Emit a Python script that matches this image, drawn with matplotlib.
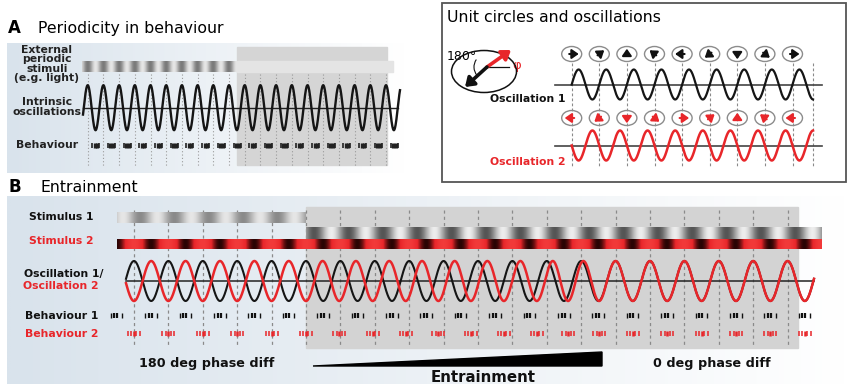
import numpy as np
import matplotlib.pyplot as plt
from matplotlib.colors import LinearSegmentedColormap
from matplotlib.patches import Rectangle, Ellipse, Polygon, Arc, FancyArrowPatch

# ***** VALUES (pixel units) *****
red = '#e8262a'

# panel A
a_labels = ["External\nperiodic\nstimuli\n(e.g. light)", "Intrinsic\noscillations", "Behaviour"]
a_label_y = [64, 107, 145]
a_period = 15.7
a_first_peak = 87.7
a_n_peaks = 20
a_wave_start, a_wave_end = 83, 400

# unit circle panel
circle_angles_1 = [0, 45, 90, 135, 180, 225, 270, 315, 360]
circle_angles_2 = [180, 225, 270, 315, 0, 45, 90, 135, 180]
c_period = 27.6
c_start, c_end = 571.7, 813

# panel B
b_labels = ["Stimulus 1", "Stimulus 2", "Oscillation 1/", "Oscillation 2", "Behaviour 1", "Behaviour 2"]
b_label_x = [29, 29, 24, 23, 25, 25]
b_label_y = [217, 241, 274, 286, 316, 334]
b_label_col = ['#111111', red, '#111111', red, '#111111', red]
b_period = 34.4
b_zero = 125.4
b_n_lines = 20
# phase lag of oscillation 2 behind oscillation 1 (px) along the entrainment zone
lag_x = [306, 340, 375, 410, 444, 478, 512, 547, 581, 606]
lag_px = [17.2, 16.0, 15.0, 13.5, 11.7, 9.7, 8.4, 6.7, 2.4, 0.0]

fig = plt.figure(figsize=(8.48, 3.84), dpi=100)
ax = fig.add_axes([0, 0, 1, 1])


def grad(x0, x1, y0, y1, vals, cmap, z=3):
    ax.imshow(np.asarray(vals)[None, :], extent=(x0, x1, y1, y0), cmap=cmap, vmin=0, vmax=1,
              aspect='auto', interpolation='bilinear', zorder=z)


bg_cmap = LinearSegmentedColormap.from_list('bg', ['#ffffff', '#d9e3ec'])
gray_cmap = LinearSegmentedColormap.from_list('g', ['#e6e6e6', '#7a7a7a'])
gray2_cmap = LinearSegmentedColormap.from_list('g2', ['#ededed', '#555555'])
red_cmap = LinearSegmentedColormap.from_list('r', ['#f23a3a', '#e8262a', '#2a0404'])

# ***** PANEL A *****
grad(7, 405, 43, 173, np.linspace(1, 0, 200), bg_cmap, z=0)
ax.add_patch(Rectangle((237, 47), 150, 118, color='#d5d5d5', zorder=1))
ax.text(8, 33, "A", fontsize=12, fontweight='bold')
ax.text(38, 33, "Periodicity in behaviour", fontsize=11.3)

for s, y in zip(a_labels, a_label_y):
    ax.text(47, y, s, fontsize=7.8, fontweight='bold', ha='center', va='center',
            linespacing=0.95, color='#222222')

peaks_a = a_first_peak + a_period * np.arange(a_n_peaks)
ax.vlines(peaks_a, 74, 166, color='#9a9a9a', lw=0.8, linestyles=(0, (1, 2)), zorder=2)

xs = np.linspace(82, 237, 400)
grad(82, 237, 61, 72, (1 + np.cos(2 * np.pi * (xs - a_first_peak) / a_period)) / 2, gray_cmap)
ax.add_patch(Rectangle((237, 61), 156, 11, color='#e4e4e4', zorder=3))

xa = np.linspace(a_wave_start, a_wave_end, 1500)
ya = 107.7 - 22.5 * np.sin(2 * np.pi * (xa - a_first_peak) / a_period + np.pi / 2)
ax.plot([a_wave_start, 398], [107.7, 107.7], color='#222222', lw=1, zorder=4)
ax.plot(xa, ya, color='#151515', lw=1.7, zorder=5)

for cx in peaks_a + 8:
    ax.vlines(cx + np.array([-3.5, -1, 1.5, 3.5]), 143, 148, color='#222222',
              lw=[1.2, 2.4, 2.4, 1.2], zorder=5)

# ***** UNIT CIRCLES PANEL *****
ax.add_patch(Rectangle((442, 2.5), 403.5, 179, fill=False, ec='#555555', lw=1.3, zorder=5))
ax.text(447, 21.7, "Unit circles and oscillations", fontsize=11.3)

ax.add_patch(Ellipse((484, 71.5), 65, 42, fill=False, ec='#111111', lw=1.1, zorder=5))
ax.plot([487, 509], [67, 67], color='#111111', lw=0.9, zorder=5)
ax.add_patch(Arc((487, 67), 26, 26, theta1=140, theta2=215, color='#111111', lw=0.8, zorder=5))
for end, col in [((511, 50), red), ((465, 87), '#111111')]:
    ax.add_patch(FancyArrowPatch((487, 67), end, arrowstyle='-|>,head_length=5,head_width=3.5',
                                 mutation_scale=1, color=col, lw=2.6, shrinkA=0, shrinkB=0, zorder=6))
ax.text(447, 57, "180°", fontsize=9, va='center')
ax.text(512, 66, "φ", fontsize=9.5, va='center', color=red)

circ_x = c_start + c_period * np.arange(len(circle_angles_1))
for row_y, angs, col in [(54, circle_angles_1, '#111111'), (118, circle_angles_2, red)]:
    for cx, ang in zip(circ_x, angs):
        ax.add_patch(Ellipse((cx, row_y), 20, 15, fill=False, ec='#8c8c8c', lw=1, zorder=5))
        dx, dy = np.cos(np.radians(ang)), -np.sin(np.radians(ang)) * 0.75
        ax.add_patch(FancyArrowPatch((cx - 2.5 * dx, row_y - 2.5 * dy), (cx + 7 * dx, row_y + 7 * dy),
                                     arrowstyle='-|>,head_length=4,head_width=2.8', mutation_scale=1,
                                     color=col, lw=1.5, shrinkA=0, shrinkB=0, zorder=6))

ax.vlines(list(circ_x) + [c_end], 63, 168, color='#8a8a8a', lw=0.8, linestyles=(0, (2.5, 2)), zorder=2)
xc = np.linspace(c_start, c_end, 1200)
ax.plot([555, 822], [84.5, 84.5], color='#444444', lw=1.2, zorder=3)
ax.plot([555, 822], [145.5, 145.5], color='#444444', lw=1.2, zorder=3)
ax.plot(xc, 84.5 - 15 * np.sin(2 * np.pi * (xc - c_start) / c_period), color='#151515', lw=1.6, zorder=4)
ax.plot(xc, 145.5 + 15 * np.sin(2 * np.pi * (xc - c_start) / c_period), color=red, lw=1.8, zorder=4)
ax.text(566, 99, "Oscillation 1", fontsize=7.8, fontweight='bold', ha='right', va='center', color='#111111')
ax.text(566, 162, "Oscillation 2", fontsize=7.8, fontweight='bold', ha='right', va='center', color=red)

# ***** PANEL B *****
grad(7, 848, 196, 384, np.linspace(1, 0, 300), bg_cmap, z=0)
ax.add_patch(Rectangle((306, 207), 492, 141, color='#d3d3d3', zorder=1))
ax.text(8, 192, "B", fontsize=12, fontweight='bold')
ax.text(40, 192, "Entrainment", fontsize=11.3)

for s, x, y, col in zip(b_labels, b_label_x, b_label_y, b_label_col):
    ax.text(x, y, s, fontsize=7.8, fontweight='bold', va='center', color=col)

lines_b = b_zero + b_period / 4 + b_period * np.arange(b_n_lines)
ax.vlines(lines_b, 210, 346, color='#8a8a8a', lw=0.9, linestyles=(0, (2.5, 2.5)), zorder=2)

xs = np.linspace(117, 306, 400)
grad(117, 306, 212, 223, (1 + np.cos(2 * np.pi * (xs - lines_b[0] - 6) / b_period)) / 2 * 0.85, gray_cmap)
xs = np.linspace(306, 822, 900)
grad(306, 822, 227, 239, (1 + np.cos(2 * np.pi * (xs - lines_b[0] - 8) / b_period)) / 2, gray2_cmap)
xs = np.linspace(117, 822, 1200)
grad(117, 822, 239, 249, (1 + np.cos(2 * np.pi * (xs - lines_b[0] - 17) / b_period)) / 2, red_cmap)

xb = np.linspace(126, 814, 3000)
lag = np.interp(xb, lag_x, lag_px)
ax.plot([126, 814], [281, 281], color='#222222', lw=1.1, zorder=4)
ax.plot(xb, 281 - 20 * np.sin(2 * np.pi * (xb - b_zero) / b_period), color='#151515', lw=1.5, zorder=5)
ax.plot(xb, 281 - 20 * np.sin(2 * np.pi * (xb - b_zero - lag) / b_period), color=red, lw=1.8, zorder=6)

# behaviour clusters sit at the troughs of each oscillation
k = np.arange(-1, b_n_lines)
trough_1 = b_zero + 0.75 * b_period + k * b_period
trough_2 = trough_1.copy()
for _ in range(6):
    trough_2 = trough_1 + np.interp(trough_2, lag_x, lag_px)
for cx in trough_1:
    ax.vlines(cx + np.array([-6, -2.5, 0.5, 5.5]), 313, 318, color='#111111',
              lw=[1, 1.6, 1.6, 1], zorder=5)
for cx in trough_2:
    ax.vlines(cx + np.array([-6, -2.5, 0, 2.5, 6]), 331, 336, color=red,
              lw=[1.1, 1.1, 1.8, 1.1, 1.1], zorder=5)

ax.add_patch(Polygon([(313, 366), (602, 352), (602, 366)], closed=True, color='#000000', zorder=5))
ax.text(207, 363, "180 deg phase diff", fontsize=9.2, fontweight='bold', ha='center', va='center', color='#111111')
ax.text(712, 363, "0 deg phase diff", fontsize=9.2, fontweight='bold', ha='center', va='center', color='#111111')
ax.text(483, 377, "Entrainment", fontsize=10.8, fontweight='bold', ha='center', va='center', color='#111111')

ax.set_xlim(0, 848)
ax.set_ylim(384, 0)
ax.axis('off')
fig.savefig('out.png', dpi=100)
